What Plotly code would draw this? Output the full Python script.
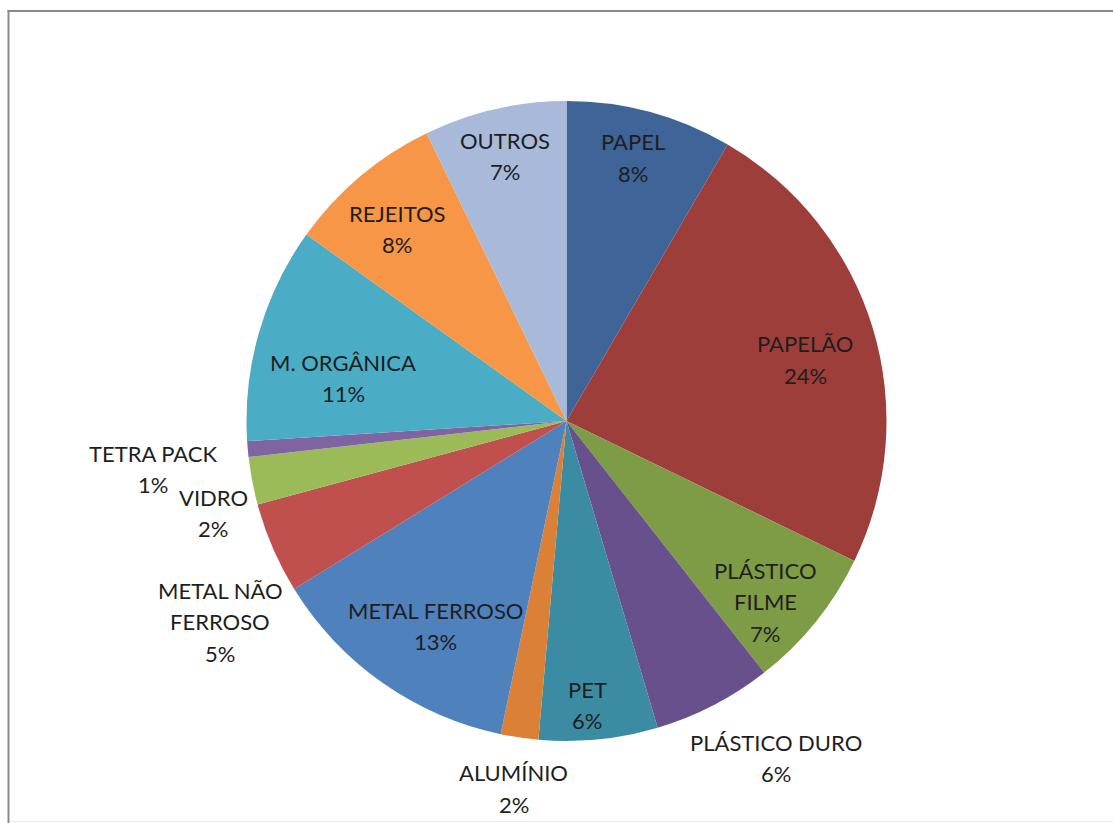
import math
import plotly.graph_objects as go

# Composition of collected waste (percent of total mass)
categories = [
    "PAPEL", "PAPELÃO", "PLÁSTICO FILME", "PLÁSTICO DURO", "PET", "ALUMÍNIO",
    "METAL FERROSO", "METAL NÃO FERROSO", "VIDRO", "TETRA PACK",
    "M. ORGÂNICA", "REJEITOS", "OUTROS",
]
shares = [8.4, 23.8, 7.2, 6.0, 6.0, 1.9, 12.9, 4.6, 2.4, 0.8, 10.9, 7.9, 7.2]

# Label text as it is broken over lines
label_lines = [
    ["PAPEL"], ["PAPELÃO"], ["PLÁSTICO", "FILME"], ["PLÁSTICO DURO"], ["PET"],
    ["ALUMÍNIO"], ["METAL FERROSO"], ["METAL NÃO", "FERROSO"], ["VIDRO"],
    ["TETRA PACK"], ["M. ORGÂNICA"], ["REJEITOS"], ["OUTROS"],
]

colors = [
    "#3F6498", "#9D3E3B", "#7E9B46", "#68508C", "#3B8CA2", "#DA8137",
    "#4F81BD", "#C0504D", "#9BBB59", "#8064A2", "#4BACC6", "#F79646", "#A8B9D9",
]

# Label placement: radius as a fraction of the pie radius, and an angular nudge (deg)
label_radius = [0.85, 0.77, 0.84, 1.24, 0.89, 1.16, 0.76, 1.25, 1.14, 1.30, 0.71, 0.80, 0.85]
label_nudge = [-0.9, 2.5, 3.4, -4.5, 1.6, -0.3, -2.6, -6.7, -3.8, -1.6, -5.1, -1.3, 0.0]

W, H = 1113, 823
CX, CY, R = 566.5, 421.0, 320.0  # pie centre and radius in pixels
LINE_GAP = 31.5                   # baseline-to-baseline spacing of label lines, px

fig = go.Figure(
    go.Pie(
        labels=categories,
        values=shares,
        sort=False,
        direction="clockwise",
        rotation=0,
        marker=dict(colors=colors, line=dict(width=0)),
        textinfo="none",
        hoverinfo="label+percent",
        domain=dict(x=[(CX - R) / W, (CX + R) / W], y=[1 - (CY + R) / H, 1 - (CY - R) / H]),
        showlegend=False,
    )
)

total = sum(shares)
annotations = []
cum = 0.0
for name, v, lines, rf, nudge in zip(categories, shares, label_lines, label_radius, label_nudge):
    mid = (cum + v / 2) / total * 360.0 + nudge
    cum += v
    theta = math.radians(mid)
    px = CX + rf * R * math.sin(theta)
    py = CY - rf * R * math.cos(theta)
    rows = lines + [f"{round(100 * v / total)}%"]
    n = len(rows)
    for i, row in enumerate(rows):
        ry = py + (i - (n - 1) / 2) * LINE_GAP
        annotations.append(
            dict(
                x=px / W, y=1 - ry / H, xref="paper", yref="paper",
                text=row, showarrow=False, xanchor="center", yanchor="middle",
                font=dict(family="Lato", size=22, color="#1E1E1E"),
            )
        )

# Chart-area frame: dark edges on top/left, faint edge at the bottom
shapes = [
    dict(type="line", xref="paper", yref="paper", x0=8.5 / W, x1=8.5 / W, y0=0, y1=1 - 10 / H,
         line=dict(color="#898989", width=2)),
    dict(type="line", xref="paper", yref="paper", x0=7.5 / W, x1=1, y0=1 - 11 / H, y1=1 - 11 / H,
         line=dict(color="#898989", width=2)),
    dict(type="line", xref="paper", yref="paper", x0=10 / W, x1=1, y0=1 - 821.5 / H, y1=1 - 821.5 / H,
         line=dict(color="#EDEDED", width=1)),
]

fig.update_layout(
    width=W, height=H,
    margin=dict(l=0, r=0, t=0, b=0),
    paper_bgcolor="white", plot_bgcolor="white",
    annotations=annotations, shapes=shapes,
)

fig.write_html("out.html")
